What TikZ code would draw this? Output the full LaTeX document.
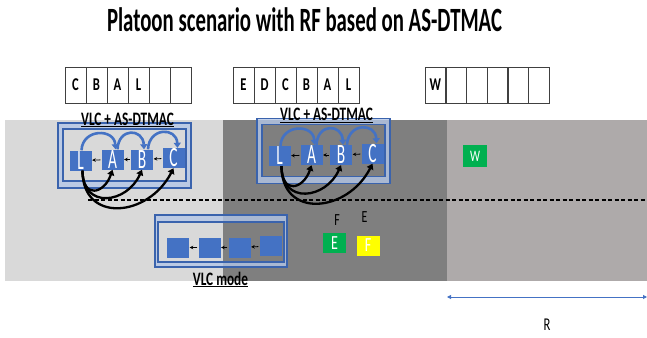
\documentclass[tikz,border=0pt]{standalone}
\usepackage{fontspec}
\setmainfont{Carlito}
\usetikzlibrary{arrows.meta}
\definecolor{roadlight}{HTML}{D9D9D9}
\definecolor{roaddark}{HTML}{7F7F7F}
\definecolor{roadright}{HTML}{AEAAAA}
\definecolor{carblue}{HTML}{4472C4}
\definecolor{boxblue}{HTML}{3A63AD}
\definecolor{ringblue}{HTML}{B4C7E7}
\definecolor{sgreen}{HTML}{00B050}
\definecolor{syellow}{HTML}{FFFF00}
\newcommand{\narrowtxt}[2][0.7]{\scalebox{#1}[1]{#2}}
\begin{document}
\begin{tikzpicture}[x=1pt,y=-1pt,
  cell/.style={draw=black!75, line width=0.7pt, minimum width=21pt, minimum height=36pt, inner sep=0pt, font=\fontsize{18}{18}\selectfont\bfseries},
  car/.style={fill=carblue, minimum width=22pt, minimum height=20pt, inner sep=0pt, text=white, font=\fontsize{28}{28}\selectfont},
  sig/.style={minimum width=23pt, minimum height=20pt, inner sep=0pt, text=white, font=\fontsize{20}{20}\selectfont},
  ringfill/.style={fill=ringblue, fill opacity=0.8},
  boxline/.style={draw=boxblue, line width=1.2pt},
  lbl/.style={anchor=base, inner sep=0pt, font=\fontsize{19}{19}\selectfont\bfseries},
  smallarr/.style={-{Stealth[length=3.5pt,width=3.5pt]}, line width=0.8pt, shorten <=1pt, shorten >=0.5pt},
  bluearc/.style={draw=carblue, line width=2.6pt, -{Triangle[length=5pt,width=7pt]}},
  blackarc/.style={draw=black, line width=2.3pt, -{Triangle[length=5.5pt,width=7pt]}},
  dashline/.style={line width=1.4pt, dash pattern=on 4pt off 2.5pt},
  rarrow/.style={draw=carblue, line width=0.9pt, {Triangle[length=4pt,width=4pt]}-{Triangle[length=4pt,width=4pt]}}
]
\useasboundingbox (0,0) rectangle (647,337);
% roads
\fill[roadlight] (5,120) rectangle (223,281);
\fill[roaddark] (223,120) rectangle (447,281);
\fill[roadright] (447,120) rectangle (647,281);
% dashed lane line
\coordinate (dashL) at (88,200);
\coordinate (dashR) at (647,200);
\draw[dashline] (dashL) -- (dashR);
% title
\node[anchor=base, inner sep=0pt, font=\fontsize{34}{40}\selectfont\bfseries] (title) at (304.5,32)
  {\resizebox{395pt}{\height}{Platoon scenario with RF based on AS-DTMAC}};
% tables
\foreach \i/\l in {1/C,2/B,3/A,4/L,5/,6/}
  \node[cell] (ta\i) at (65+21*\i-10.5,85) {\narrowtxt{\l}};
\foreach \i/\l in {1/E,2/D,3/C,4/B,5/A,6/L}
  \node[cell] (tb\i) at (233+21*\i-10.5,85) {\narrowtxt{\l}};
\foreach \i/\l in {1/W,2/,3/,4/,5/,6/}
  \node[cell] (tc\i) at (425+20.7*\i-10.35,85) {\narrowtxt{\l}};
% platoon blocks
\foreach \p/\dx/\dy in {a/0/0,b/199/-4.5}{
\begin{scope}[shift={(\dx,\dy)}]
  \fill[ringfill, even odd rule] (58,123) rectangle (191,188) (63,129) rectangle (186,181);
  \draw[boxline] (58,123) rectangle (191,188) (63,129) rectangle (186,181);
  \node[car] (\p-L) at (80.5,160.5) {\narrowtxt[0.55]{L}};
  \node[car] (\p-A) at (112.5,159.5) {\narrowtxt[0.55]{A}};
  \node[car] (\p-B) at (142,159.5) {\narrowtxt[0.55]{B}};
  \node[car] (\p-C) at (173.5,158) {\narrowtxt[0.55]{C}};
  \draw[smallarr] (\p-A) -- (\p-L);
  \draw[smallarr] (\p-B) -- (\p-A);
  \draw[smallarr] (\p-C) -- (\p-B);
  \draw[bluearc] ([xshift=1pt]\p-L.north) .. controls +(1,-22) and +(-1,-21) .. ([xshift=3pt]\p-A.north);
  \draw[bluearc] ([xshift=5pt]\p-A.north) .. controls +(1,-22) and +(-1,-21) .. ([xshift=2pt]\p-B.north);
  \draw[bluearc] ([xshift=6pt]\p-B.north) .. controls +(1,-22) and +(-1,-21) .. ([xshift=4pt]\p-C.north);
  \draw[blackarc] ([xshift=2pt]\p-L.south) .. controls +(0,29) and +(-8,24) .. (\p-A.south);
  \draw[blackarc] ([xshift=2pt]\p-L.south) .. controls +(0,39) and +(-15,34) .. (\p-B.south);
  \draw[blackarc] ([xshift=2pt]\p-L.south) .. controls +(0,53) and +(-25,49) .. (\p-C.south);
  \node[lbl] (\p-lbl) at (127.5,125) {\narrowtxt{\underline{VLC + AS-DTMAC}}};
\end{scope}}
% VLC mode block
\fill[ringfill, even odd rule] (155,215) rectangle (287,267) (158,222) rectangle (284,262);
\draw[boxline] (155,215) rectangle (287,267) (158,222) rectangle (284,262);
\node[car] (v1) at (178,247.5) {};
\node[car] (v2) at (209.5,247.5) {};
\node[car] (v3) at (239.5,247.5) {};
\node[car] (v4) at (270.5,246) {};
\draw[smallarr] (v2) -- (v1);
\draw[smallarr] (v3) -- (v2);
\draw[smallarr] (v4) -- (v3);
\node[lbl] (vlbl) at (220.5,285) {\narrowtxt{\underline{VLC mode}}};
% E / F vehicles
\node[anchor=center, inner sep=0pt, font=\fontsize{17}{17}\selectfont] (Flbl) at (337,220.5) {\narrowtxt{F}};
\node[anchor=center, inner sep=0pt, font=\fontsize{17}{17}\selectfont] (Elbl) at (364.5,217.5) {\narrowtxt{E}};
\node[sig, fill=sgreen] (E) at (334.5,243) {\narrowtxt{E}};
\node[sig, fill=syellow] (F) at (368,245.5) {\narrowtxt{F}};
\node[sig, fill=sgreen, minimum width=24pt, minimum height=22pt, font=\fontsize{16}{16}\selectfont] (W) at (475,156) {\narrowtxt{W}};
% range arrow
\coordinate (rL) at (447,297);
\coordinate (rR) at (647,297);
\draw[rarrow] (rL) -- (rR);
\node[anchor=center, inner sep=0pt, font=\fontsize{18}{18}\selectfont] (R) at (547,325) {\narrowtxt{R}};
\end{tikzpicture}
\end{document}
